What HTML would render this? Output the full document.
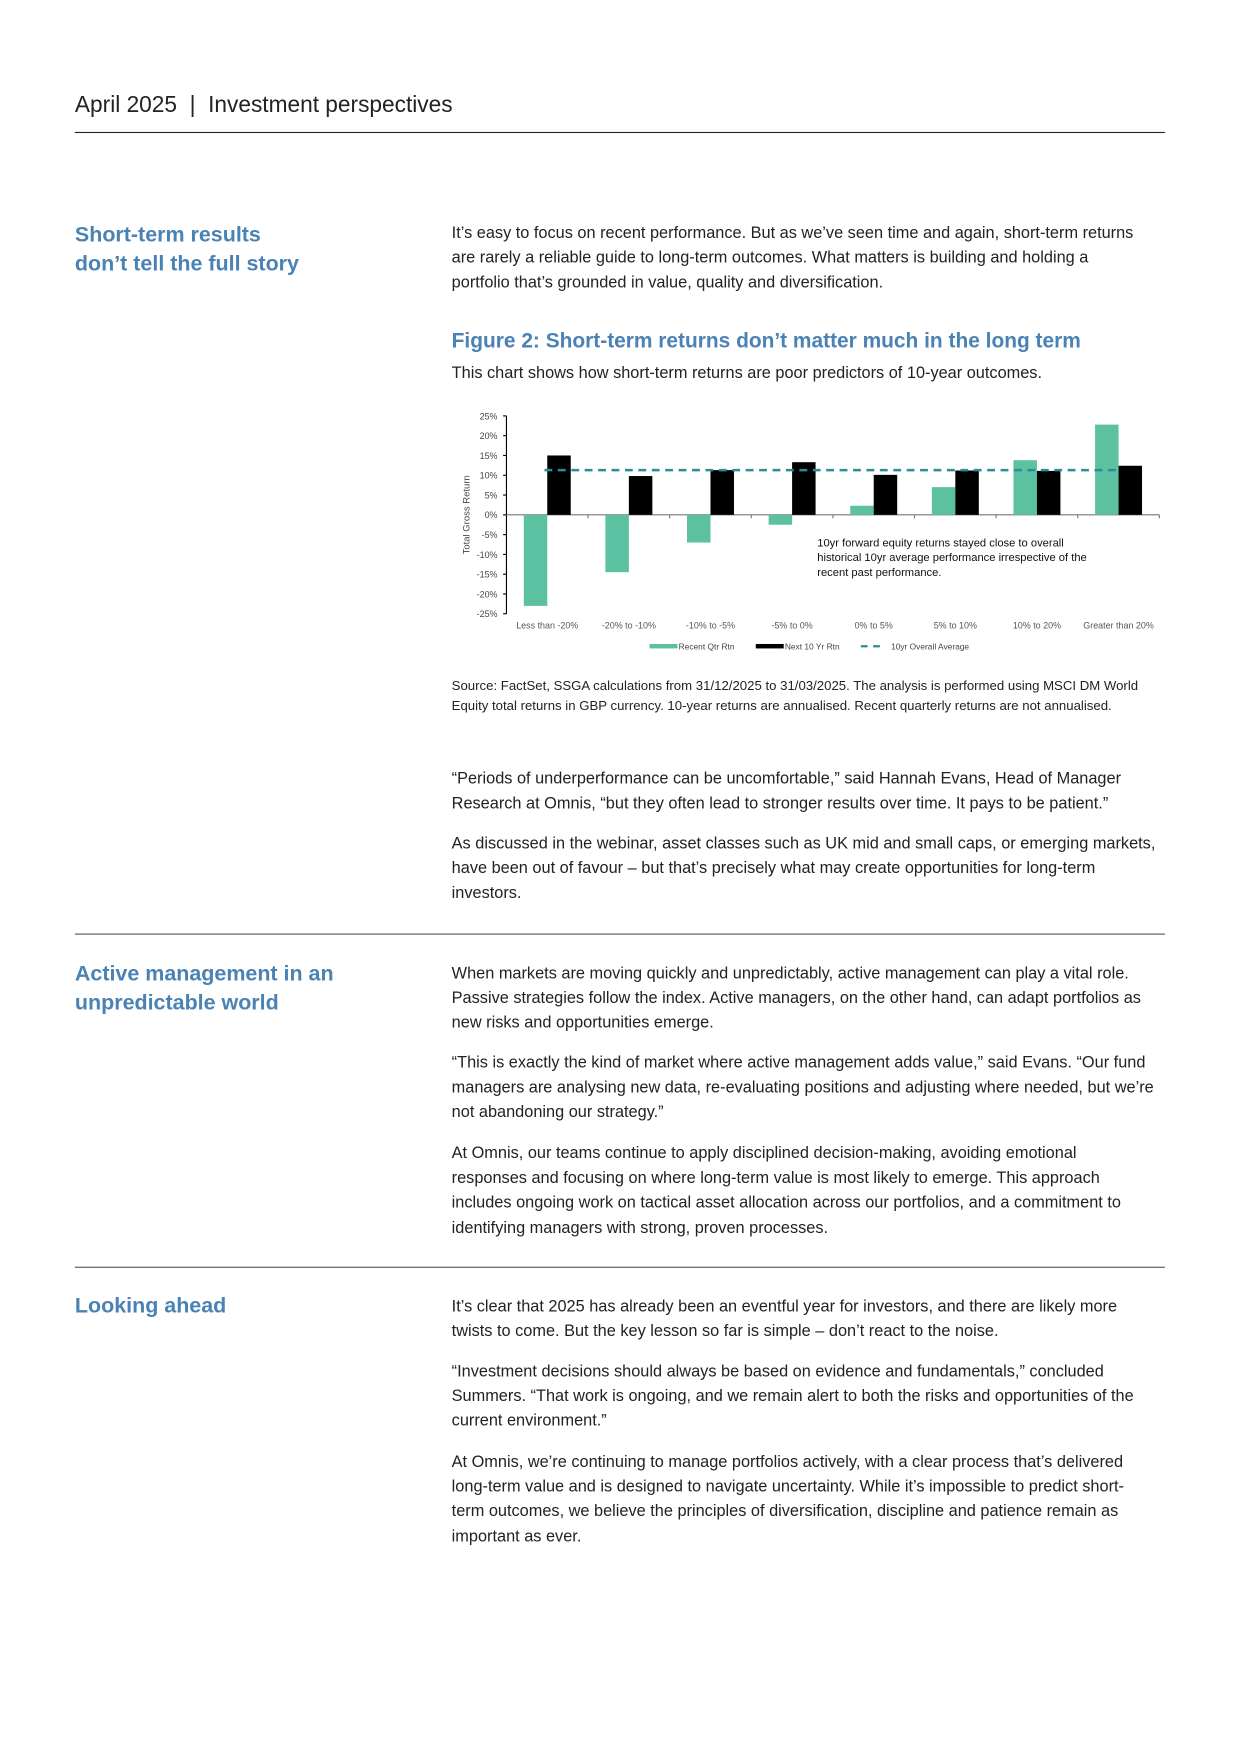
<!DOCTYPE html>
<html><head><meta charset="utf-8">
<style>
html,body{margin:0;padding:0;background:#fff;}
body{width:1240px;height:1754px;overflow:hidden;position:relative;}
#pg{position:absolute;left:0;top:0;width:1110px;height:1569px;transform:scale(1.118);transform-origin:0 0;font-family:"Liberation Sans",sans-serif;color:#222;}
.l{position:absolute;left:404px;white-space:nowrap;font-size:14.6px;line-height:22.4px;margin-top:1.5px;}
.h{position:absolute;left:67px;white-space:nowrap;font-size:19.2px;font-weight:bold;color:#4a82b4;line-height:26.5px;margin-top:1.5px;}
.rule{position:absolute;left:67px;width:975px;height:1px;background:#555;}
.src{position:absolute;left:404px;white-space:nowrap;font-size:11.8px;line-height:18px;margin-top:1px;}
</style></head><body>
<div id="pg">
<div style="position:absolute;left:67px;top:83px;font-size:20.3px;color:#222;white-space:nowrap">April 2025 &nbsp;|&nbsp; Investment perspectives</div>
<div class="rule" style="top:118px;background:#222"></div>

<div class="h" style="top:196px">Short-term results<br>don’t tell the full story</div>
<div class="l" style="top:196px">It’s easy to focus on recent performance. But as we’ve seen time and again, short-term returns<br>are rarely a reliable guide to long-term outcomes. What matters is building and holding a<br>portfolio that’s grounded in value, quality and diversification.</div>
<div class="l" style="top:290px;font-size:18.7px;font-weight:bold;color:#4a82b4;line-height:26px">Figure 2: Short-term returns don’t matter much in the long term</div>
<div class="l" style="top:321px">This chart shows how short-term returns are poor predictors of 10-year outcomes.</div>

<svg style="position:absolute;left:0;top:0" width="1100" height="600" id="chart" font-family="Liberation Sans, sans-serif"></svg>

<div class="src" style="top:603px">Source: FactSet, SSGA calculations from 31/12/2025 to 31/03/2025. The analysis is performed using MSCI DM World<br>Equity total returns in GBP currency. 10-year returns are annualised. Recent quarterly returns are not annualised.</div>

<div class="l" style="top:684px">“Periods of underperformance can be uncomfortable,” said Hannah Evans, Head of Manager<br>Research at Omnis, “but they often lead to stronger results over time. It pays to be patient.”</div>
<div class="l" style="top:742px">As discussed in the webinar, asset classes such as UK mid and small caps, or emerging markets,<br>have been out of favour – but that’s precisely what may create opportunities for long-term<br>investors.</div>
<div class="rule" style="top:835px"></div>

<div class="h" style="top:857px">Active management in an<br>unpredictable world</div>
<div class="l" style="top:858px">When markets are moving quickly and unpredictably, active management can play a vital role.<br>Passive strategies follow the index. Active managers, on the other hand, can adapt portfolios as<br>new risks and opportunities emerge.</div>
<div class="l" style="top:938px">“This is exactly the kind of market where active management adds value,” said Evans. “Our fund<br>managers are analysing new data, re-evaluating positions and adjusting where needed, but we’re<br>not abandoning our strategy.”</div>
<div class="l" style="top:1019px">At Omnis, our teams continue to apply disciplined decision-making, avoiding emotional<br>responses and focusing on where long-term value is most likely to emerge. This approach<br>includes ongoing work on tactical asset allocation across our portfolios, and a commitment to<br>identifying managers with strong, proven processes.</div>
<div class="rule" style="top:1133px"></div>

<div class="h" style="top:1154px">Looking ahead</div>
<div class="l" style="top:1156px">It’s clear that 2025 has already been an eventful year for investors, and there are likely more<br>twists to come. But the key lesson so far is simple – don’t react to the noise.</div>
<div class="l" style="top:1214px">“Investment decisions should always be based on evidence and fundamentals,” concluded<br>Summers. “That work is ongoing, and we remain alert to both the risks and opportunities of the<br>current environment.”</div>
<div class="l" style="top:1295px">At Omnis, we’re continuing to manage portfolios actively, with a clear process that’s delivered<br>long-term value and is designed to navigate uncertainty. While it’s impossible to predict short-<br>term outcomes, we believe the principles of diversification, discipline and patience remain as<br>important as ever.</div>
</div>
<script>
const categories=["Less than -20%","-20% to -10%","-10% to -5%","-5% to 0%","0% to 5%","5% to 10%","10% to 20%","Greater than 20%"];
const recentQtr=[-23,-14.5,-7,-2.5,2.3,7,13.8,22.8];
const next10Yr=[15,9.8,11.3,13.3,10.1,11.2,11.1,12.4];
const overallAvg=11.3;
const yTicks=[25,20,15,10,5,0,-5,-10,-15,-20,-25];
const svg=document.getElementById('chart');
const NS='http://www.w3.org/2000/svg';
const X0=453,X1=1037,Ytop=372,Ybot=549;
const y=v=>Ytop+(25-v)*(Ybot-Ytop)/50;
const band=(X1-X0)/categories.length;
const bx=i=>X0+band*i;
function mk(t,a,p){const e=document.createElementNS(NS,t);for(const k in a)e.setAttribute(k,a[k]);(p||svg).appendChild(e);return e;}
let e;
e=mk('line',{x1:X0,x2:X0,y1:Ytop,y2:Ybot,stroke:'#000','stroke-width':1});

yTicks.forEach(v=>{
 mk('line',{x1:X0-3,x2:X0,y1:y(v),y2:y(v),stroke:'#000'});
 e=mk('text',{x:X0-8,y:y(v)+3,'font-size':8,fill:'#444','text-anchor':'end'});e.textContent=v+'%';
 
});
e=mk('text',{x:0,y:0,'font-size':8.5,fill:'#444','text-anchor':'middle',transform:`translate(420,${y(0)}) rotate(-90)`});e.textContent='Total Gross Return';

e=mk('line',{x1:X0,x2:X1,y1:y(0),y2:y(0),stroke:'#777'});

categories.forEach((c,i)=>{
 mk('line',{x1:bx(i+1),x2:bx(i+1),y1:y(0),y2:y(0)+3,stroke:'#777'});
 const g0=bx(i)+band/2-21;
 const rv=recentQtr[i];
 e=mk('rect',{x:g0,y:Math.min(y(rv),y(0)),width:21,height:Math.abs(y(rv)-y(0)),fill:'#5cc1a0'});
 
 const nv=next10Yr[i];
 e=mk('rect',{x:g0+21,y:Math.min(y(nv),y(0)),width:21,height:Math.abs(y(nv)-y(0)),fill:'#000'});
 
 e=mk('text',{x:bx(i)+band/2,y:562,'font-size':8,fill:'#555','text-anchor':'middle'});e.textContent=c;
 
});
e=mk('line',{x1:X0+34,x2:bx(7)+band/2,y1:y(overallAvg),y2:y(overallAvg),stroke:'#2a8f95','stroke-width':2.2,'stroke-dasharray':'7,5'});

e=mk('text',{x:731,y:489,'font-size':10,fill:'#111'});

['10yr forward equity returns stayed close to overall','historical 10yr average performance irrespective of the','recent past performance.'].forEach((t,k)=>{const s=mk('tspan',{x:731,dy:k?13:0},e);s.textContent=t;});
e=mk('rect',{x:581,y:576,width:25,height:4,fill:'#5cc1a0'});
e=mk('text',{x:607,y:581,'font-size':7.5,fill:'#444'});e.textContent='Recent Qtr Rtn';
e=mk('rect',{x:676,y:576,width:25,height:4,fill:'#000'});
e=mk('text',{x:702,y:581,'font-size':7.5,fill:'#444'});e.textContent='Next 10 Yr Rtn';
e=mk('line',{x1:770,x2:792,y1:578,y2:578,stroke:'#2a8f95','stroke-width':2,'stroke-dasharray':'6,5'});
e=mk('text',{x:797,y:581,'font-size':7.5,fill:'#444'});e.textContent='10yr Overall Average';
</script>
</body></html>
